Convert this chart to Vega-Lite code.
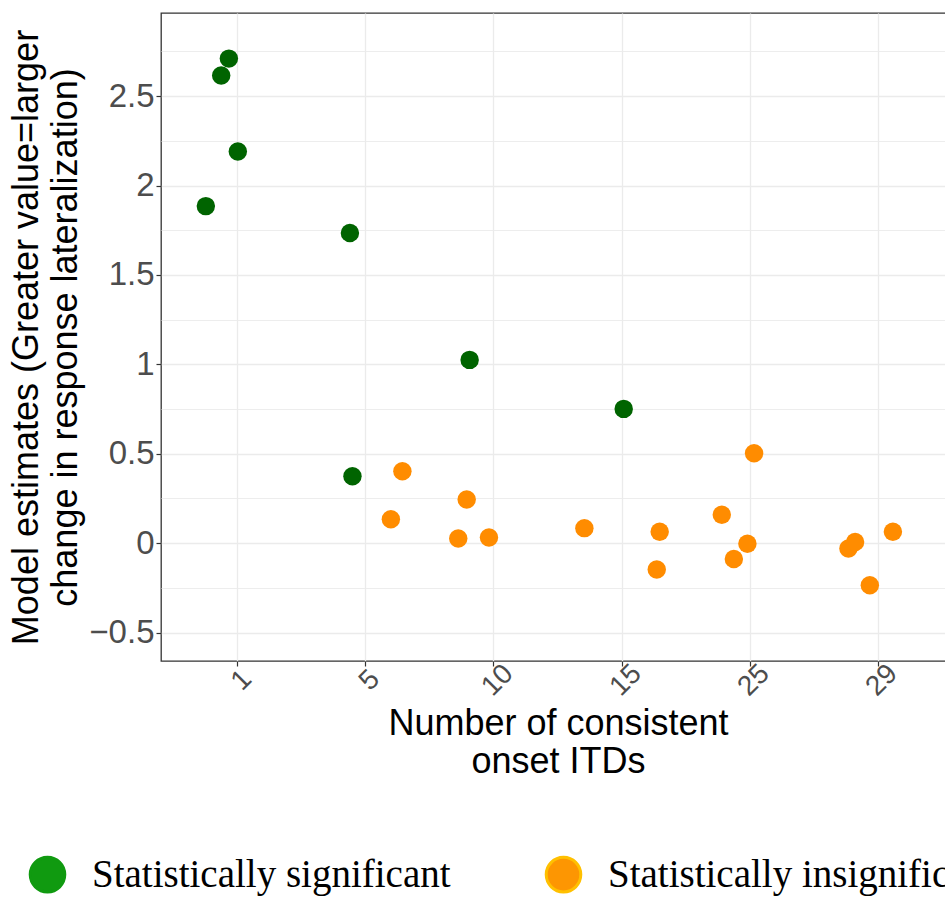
{
  "$schema": "https://vega.github.io/schema/vega-lite/v6.json",
  "autosize": {"type": "none"},
  "padding": {"left": 161, "top": 13, "right": -10, "bottom": 238},
  "width": 794,
  "height": 648,
  "background": "white",
  "config": {
    "font": "Liberation Sans",
    "view": {"stroke": "#333333", "strokeWidth": 1.3}
  },
  "data": {
    "values": [
      {"itd": "1", "jitter": -0.07, "estimate": 2.71, "significance": "Statistically significant"},
      {"itd": "1", "jitter": -0.13, "estimate": 2.615, "significance": "Statistically significant"},
      {"itd": "1", "jitter": 0.0, "estimate": 2.19, "significance": "Statistically significant"},
      {"itd": "1", "jitter": -0.25, "estimate": 1.885, "significance": "Statistically significant"},
      {"itd": "5", "jitter": -0.125, "estimate": 1.735, "significance": "Statistically significant"},
      {"itd": "5", "jitter": -0.105, "estimate": 0.374, "significance": "Statistically significant"},
      {"itd": "5", "jitter": 0.285, "estimate": 0.402, "significance": "Statistically insignificant"},
      {"itd": "5", "jitter": 0.195, "estimate": 0.134, "significance": "Statistically insignificant"},
      {"itd": "10", "jitter": -0.19, "estimate": 1.025, "significance": "Statistically significant"},
      {"itd": "10", "jitter": -0.213, "estimate": 0.244, "significance": "Statistically insignificant"},
      {"itd": "10", "jitter": -0.279, "estimate": 0.026, "significance": "Statistically insignificant"},
      {"itd": "10", "jitter": -0.039, "estimate": 0.032, "significance": "Statistically insignificant"},
      {"itd": "15", "jitter": 0.013, "estimate": 0.751, "significance": "Statistically significant"},
      {"itd": "15", "jitter": -0.294, "estimate": 0.084, "significance": "Statistically insignificant"},
      {"itd": "15", "jitter": 0.294, "estimate": 0.064, "significance": "Statistically insignificant"},
      {"itd": "15", "jitter": 0.271, "estimate": -0.147, "significance": "Statistically insignificant"},
      {"itd": "25", "jitter": 0.031, "estimate": 0.503, "significance": "Statistically insignificant"},
      {"itd": "25", "jitter": -0.221, "estimate": 0.159, "significance": "Statistically insignificant"},
      {"itd": "25", "jitter": -0.021, "estimate": -0.003, "significance": "Statistically insignificant"},
      {"itd": "25", "jitter": -0.127, "estimate": -0.089, "significance": "Statistically insignificant"},
      {"itd": "29", "jitter": -0.232, "estimate": -0.03, "significance": "Statistically insignificant"},
      {"itd": "29", "jitter": -0.18, "estimate": 0.006, "significance": "Statistically insignificant"},
      {"itd": "29", "jitter": -0.065, "estimate": -0.235, "significance": "Statistically insignificant"},
      {"itd": "29", "jitter": 0.115, "estimate": 0.064, "significance": "Statistically insignificant"}
    ]
  },
  "encoding": {
    "x": {
      "field": "itd",
      "type": "ordinal",
      "sort": ["1", "5", "10", "15", "25", "29"],
      "scale": {"type": "band", "paddingInner": 0, "paddingOuter": 0.1},
      "axis": {
        "domain": false,
        "grid": true,
        "gridColor": "#ebebeb",
        "gridWidth": 1.3,
        "ticks": true,
        "tickColor": "#333333",
        "tickSize": 5,
        "tickWidth": 1.2,
        "labelAngle": 315,
        "labelAlign": "center",
        "labelBaseline": "middle",
        "labelPadding": 14,
        "labelOffset": 4,
        "labelFontSize": 28,
        "labelColor": "#4d4d4d",
        "title": ["Number of consistent", "onset ITDs"],
        "titleFontSize": 36,
        "titleFontWeight": "normal",
        "titleColor": "black",
        "titleLineHeight": 38,
        "titleBaseline": "top",
        "titleAlign": "center",
        "titleX": 397,
        "titleY": 45
      }
    },
    "xOffset": {
      "field": "jitter",
      "type": "quantitative",
      "scale": {"domain": [-0.5, 0.5]}
    },
    "y": {
      "field": "estimate",
      "type": "quantitative",
      "scale": {"domain": [-0.659, 2.965], "nice": false, "zero": false},
      "axis": {
        "values": [-0.5, -0.25, 0, 0.25, 0.5, 0.75, 1, 1.25, 1.5, 1.75, 2, 2.25, 2.5, 2.75],
        "format": "~g",
        "labelExpr": "abs(datum.value*4) % 2 === 0 ? datum.label : ''",
        "domain": false,
        "grid": true,
        "gridColor": "#ebebeb",
        "gridWidth": {"condition": {"test": "abs(datum.value*4) % 2 === 0", "value": 1.3}, "value": 0.9},
        "tickColor": "#333333",
        "tickOpacity": {"condition": {"test": "abs(datum.value*4) % 2 === 0", "value": 1}, "value": 0},
        "tickSize": 5,
        "tickWidth": 1.2,
        "labelPadding": 2,
        "labelFontSize": 33,
        "labelColor": "#4d4d4d",
        "title": ["Model estimates (Greater value=larger", "change in response lateralization)"],
        "titleFontSize": 36,
        "titleFontWeight": "normal",
        "titleColor": "black",
        "titleLineHeight": 39,
        "titleAngle": 270,
        "titleBaseline": "top",
        "titleAlign": "center",
        "titleX": -152,
        "titleY": 324
      }
    }
  },
  "layer": [
    {
      "mark": {"type": "point", "filled": true, "size": 0, "opacity": 0},
      "encoding": {
        "fill": {
          "field": "significance",
          "type": "nominal",
          "scale": {
            "domain": ["Statistically significant", "Statistically insignificant"],
            "range": ["#109a10", "#fd9602"]
          },
          "legend": {
            "orient": "none",
            "legendX": -133,
            "legendY": 842,
            "direction": "horizontal",
            "title": null,
            "symbolType": "circle",
            "symbolSize": 1195,
            "symbolStrokeWidth": 3,
            "symbolOpacity": 1,
            "labelFont": "Liberation Serif",
            "labelFontSize": 39,
            "labelColor": "black",
            "labelOffset": 25,
            "labelLimit": 0,
            "columnPadding": 89
          }
        },
        "stroke": {
          "field": "significance",
          "type": "nominal",
          "scale": {
            "domain": ["Statistically significant", "Statistically insignificant"],
            "range": ["#109a10", "#ffc000"]
          },
          "legend": {
            "orient": "none",
            "legendX": -133,
            "legendY": 842,
            "direction": "horizontal",
            "title": null,
            "symbolType": "circle",
            "symbolSize": 1195,
            "symbolStrokeWidth": 3,
            "symbolOpacity": 1,
            "labelFont": "Liberation Serif",
            "labelFontSize": 39,
            "labelColor": "black",
            "labelOffset": 25,
            "labelLimit": 0,
            "columnPadding": 89
          }
        }
      }
    },
    {
      "mark": {"type": "point", "filled": true, "size": 340, "opacity": 1},
      "encoding": {
        "color": {
          "field": "significance",
          "type": "nominal",
          "scale": {
            "domain": ["Statistically significant", "Statistically insignificant"],
            "range": ["#006400", "#ff8c00"]
          },
          "legend": null
        }
      }
    }
  ]
}
